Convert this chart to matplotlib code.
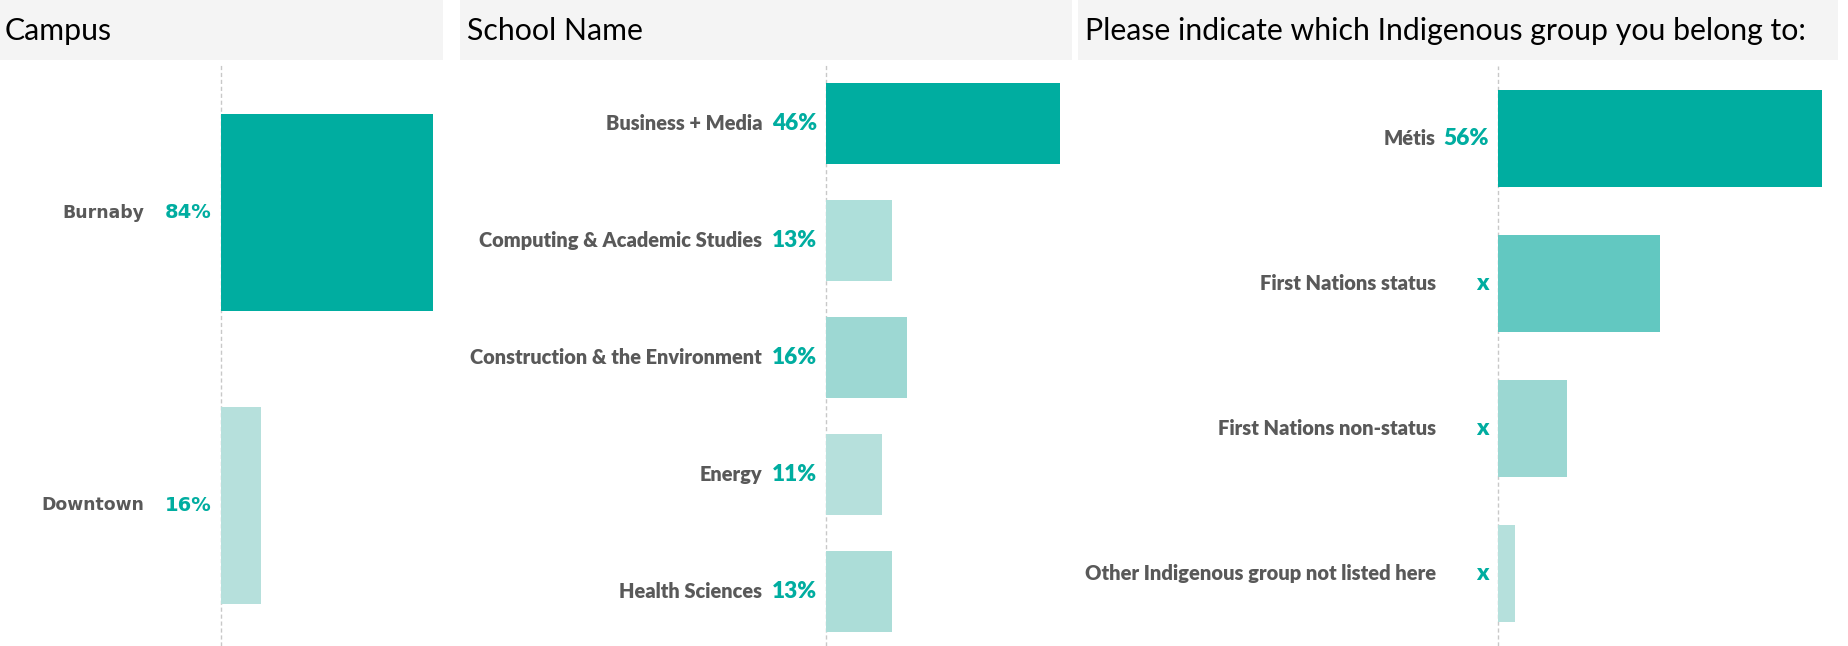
import matplotlib
matplotlib.use("Agg")
import matplotlib.pyplot as plt
from matplotlib.patches import Rectangle

W, H, DPI = 1848, 646, 100

# ---------------- data ----------------
campus_title = "Campus"
campus_cats = ["Burnaby", "Downtown"]
campus_vals = [84, 16]
campus_text = ["84%", "16%"]
campus_colors = ["#00ADA0", "#B6E0DC"]

school_title = "School Name"
school_cats = ["Business + Media", "Computing & Academic Studies",
               "Construction & the Environment", "Energy", "Health Sciences"]
school_vals = [46, 13, 16, 11, 13]
school_text = ["46%", "13%", "16%", "11%", "13%"]
school_colors = ["#00ADA0", "#AEDFDA", "#9DD8D3", "#B6E0DC", "#ACDDD8"]

indig_title = "Please indicate which Indigenous group you belong to:"
indig_cats = ["Métis", "First Nations status", "First Nations non-status",
              "Other Indigenous group not listed here"]
indig_vals = [56, 28, 12, 3]
indig_text = ["56%", "x", "x", "x"]
indig_colors = ["#00ADA0", "#62C8C1", "#9BD7D2", "#B5E0DC"]

TEAL = "#00ADA0"
GREY = "#595959"
HEADER_BG = "#F4F4F4"

fig = plt.figure(figsize=(W / DPI, H / DPI), dpi=DPI)
fig.patch.set_facecolor("white")


def fx(px):
    return px / W


def fy(py):
    return 1 - py / H


panels = [
    dict(title=campus_title, cats=campus_cats, vals=campus_vals, text=campus_text,
         colors=campus_colors, hdr=(0, 443), title_x=5,
         ax_x0=221, ax_x1=433, ax_top=64, ylim=(-0.507, 1.48), bar_h=0.672,
         lab_x=144, val_x=212,
         lab_font=dict(family="DejaVu Sans", weight="bold", size=12.4),
         val_font=dict(family="DejaVu Sans", weight="bold", size=14)),
    dict(title=school_title, cats=school_cats, vals=school_vals, text=school_text,
         colors=school_colors, hdr=(460, 1072), title_x=467,
         ax_x0=826, ax_x1=1060, ax_top=64, ylim=(-0.509, 4.466), bar_h=0.70,
         lab_x=762, val_x=817,
         lab_font=dict(family="Lato", weight="heavy", size=14.4),
         val_font=dict(family="Lato", weight="heavy", size=16.3)),
    dict(title=indig_title, cats=indig_cats, vals=indig_vals, text=indig_text,
         colors=indig_colors, hdr=(1078, 1838), title_x=1085,
         ax_x0=1498, ax_x1=1822, ax_top=66, ylim=(-0.5, 3.5), bar_h=0.67,
         lab_x=1436, val_x=1489,
         lab_font=dict(family="Lato", weight="heavy", size=14.5),
         val_font=dict(family="Lato", weight="heavy", size=16.5)),
]

for p in panels:
    # header band
    x0, x1 = p["hdr"]
    fig.patches.append(Rectangle((fx(x0), fy(60)), fx(x1 - x0), 60 / H,
                                 transform=fig.transFigure, facecolor=HEADER_BG,
                                 edgecolor="none", zorder=0))
    fig.text(fx(p["title_x"]), fy(31), p["title"], ha="left", va="center",
             fontsize=21.8, family="Lato", color="black")

    # bar axes
    ax = fig.add_axes([fx(p["ax_x0"]), 0, fx(p["ax_x1"] - p["ax_x0"]), fy(p["ax_top"])])
    ax.set_facecolor("none")
    n = len(p["cats"])
    ypos = list(range(n))
    ax.barh(ypos, p["vals"], height=p["bar_h"], color=p["colors"], zorder=2)
    ax.set_xlim(0, max(p["vals"]))
    ax.set_ylim(p["ylim"][1], p["ylim"][0])
    ax.axvline(0, color="#C8C8C8", lw=1, ls=(0, (3, 2)), zorder=1, clip_on=False)
    for s in ax.spines.values():
        s.set_visible(False)
    ax.set_xticks([])
    ax.set_yticks([])

    width_px = p["ax_x1"] - p["ax_x0"]
    lab_ax = (p["lab_x"] - p["ax_x0"]) / width_px
    val_ax = (p["val_x"] - p["ax_x0"]) / width_px
    tr = ax.get_yaxis_transform()
    for y, c, t in zip(ypos, p["cats"], p["text"]):
        ax.text(lab_ax, y, c, transform=tr, ha="right", va="center",
                color=GREY, clip_on=False, **p["lab_font"])
        ax.text(val_ax, y, t, transform=tr, ha="right", va="center",
                color=TEAL, clip_on=False, **p["val_font"])

fig.savefig("out.png", dpi=DPI, facecolor="white")
